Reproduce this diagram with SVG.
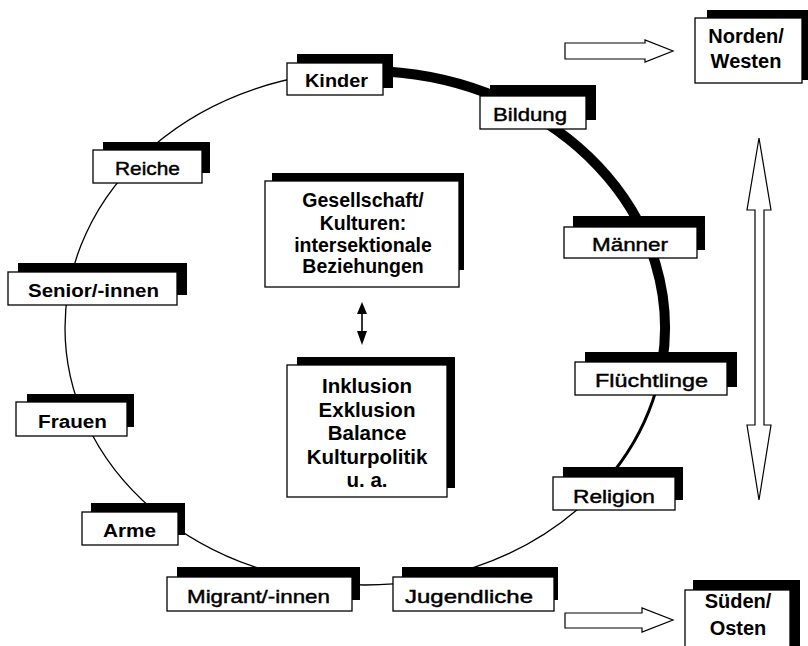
<svg xmlns="http://www.w3.org/2000/svg" width="808" height="646" viewBox="0 0 808 646">
<style>
.bg{fill:#fff}
.sh{fill:#000}
.bx{fill:#fff;stroke:#000;stroke-width:1.3}
.lb{font-family:"Liberation Sans",Arial,sans-serif;font-weight:bold;font-size:18px;text-anchor:middle;fill:#000}
.big{font-size:20px}
.ls{font-family:"Liberation Sans",Arial,sans-serif;font-weight:normal;font-size:19px;text-anchor:middle;fill:#000;stroke:#000;stroke-width:0.45}
.ct{font-family:"Liberation Sans",Arial,sans-serif;font-weight:bold;font-size:19.5px;text-anchor:middle;fill:#000}
.ct2{font-size:20.5px}
.ar{fill:#fff;stroke:#000;stroke-width:1.2}
.thin{fill:none;stroke:#000;stroke-width:1.3}
</style>
<rect class="bg" x="0" y="0" width="808" height="646"/>
<g id="connectors">
  <ellipse class="thin" cx="365" cy="328" rx="300" ry="257"/>
  <path d="M385.9 71.6 A300 257 0 0 1 662.1 363.8" fill="none" stroke="#000" stroke-width="10"/>
  <path d="M656.1 390.2 A300 257 0 0 1 613.7 471.7" fill="none" stroke="#000" stroke-width="3"/>
  <path d="M362 312 L362 333" stroke="#000" stroke-width="1.6"/>
  <polygon points="362,302 367,314 357,314" fill="#000"/>
  <polygon points="362,345 367,331 357,331" fill="#000"/>
</g>
<g id="arrow-top">
  <polygon class="ar" points="565,43 645,43 645,40 673,51 645,62 645,59 565,59"/>
</g>
<g id="arrow-bottom">
  <polygon class="ar" points="565,613 642,613 642,608 673,620 642,632 642,628 565,628"/>
</g>
<g id="arrow-vertical">
  <polygon class="ar" points="759,138 771,210 764,210 764,425 771,425 759,500 747,425 755,425 755,210 747,210"/>
</g>
<g id="node-norden">
  <rect class="sh" x="707" y="10" width="110" height="70"/>
  <rect class="bx" x="695" y="18" width="107" height="65"/>
  <text class="lb big" x="746" y="43">Norden/</text>
  <text class="lb big" x="746" y="68">Westen</text>
</g>
<g id="node-sueden">
  <rect class="sh" x="693" y="580" width="107" height="70"/>
  <rect class="bx" x="685" y="590" width="105" height="62"/>
  <text class="lb big" x="738" y="608">Süden/</text>
  <text class="lb big" x="738" y="635">Osten</text>
</g>
<g id="node-gesellschaft">
  <rect class="sh" x="272" y="173" width="192" height="97"/>
  <rect class="bx" x="265" y="181" width="194" height="106"/>
  <text class="ct" x="363" y="207">Gesellschaft/</text>
  <text class="ct" x="363" y="230">Kulturen:</text>
  <text class="ct" x="363" y="252">intersektionale</text>
  <text class="ct" x="363" y="273">Beziehungen</text>
</g>
<g id="node-inklusion">
  <rect class="sh" x="297" y="357" width="158" height="131"/>
  <rect class="bx" x="287" y="365" width="160" height="132"/>
  <text class="ct ct2" x="367" y="393">Inklusion</text>
  <text class="ct ct2" x="367" y="417">Exklusion</text>
  <text class="ct ct2" x="367" y="440">Balance</text>
  <text class="ct ct2" x="367" y="464">Kulturpolitik</text>
  <text class="ct ct2" x="367" y="487">u. a.</text>
</g>
<g id="node-kinder">
  <rect class="sh" x="297" y="54" width="96" height="34"/>
  <rect class="bx" x="287" y="63" width="96" height="32"/>
  <text class="lb" x="336.5" y="87" textLength="63" lengthAdjust="spacingAndGlyphs">Kinder</text>
</g>
<g id="node-bildung">
  <rect class="sh" x="490" y="85" width="106" height="35"/>
  <rect class="bx" x="480" y="96" width="106" height="33"/>
  <text class="ls" x="530" y="121" textLength="74" lengthAdjust="spacingAndGlyphs">Bildung</text>
</g>
<g id="node-reiche">
  <rect class="sh" x="103" y="142" width="107" height="31"/>
  <rect class="bx" x="93" y="150" width="109" height="33"/>
  <text class="ls" x="147.5" y="175" textLength="65" lengthAdjust="spacingAndGlyphs">Reiche</text>
</g>
<g id="node-senior">
  <rect class="sh" x="18" y="263" width="169" height="32"/>
  <rect class="bx" x="8" y="272" width="169" height="33"/>
  <text class="lb" x="93.5" y="297" textLength="131" lengthAdjust="spacingAndGlyphs">Senior/-innen</text>
</g>
<g id="node-frauen">
  <rect class="sh" x="27" y="394" width="107" height="33"/>
  <rect class="bx" x="16" y="402" width="111" height="34"/>
  <text class="lb" x="72.5" y="428" textLength="69" lengthAdjust="spacingAndGlyphs">Frauen</text>
</g>
<g id="node-arme">
  <rect class="sh" x="91" y="503" width="94" height="32"/>
  <rect class="bx" x="82" y="512" width="96" height="33"/>
  <text class="lb" x="129.5" y="537" textLength="53" lengthAdjust="spacingAndGlyphs">Arme</text>
</g>
<g id="node-maenner">
  <rect class="sh" x="573" y="216" width="132" height="34"/>
  <rect class="bx" x="564" y="227" width="133" height="31"/>
  <text class="ls" x="630" y="251" textLength="76" lengthAdjust="spacingAndGlyphs">Männer</text>
</g>
<g id="node-fluechtlinge">
  <rect class="sh" x="585" y="352" width="152" height="35"/>
  <rect class="bx" x="575" y="362" width="152" height="33"/>
  <text class="ls" x="651.5" y="387" textLength="113" lengthAdjust="spacingAndGlyphs">Flüchtlinge</text>
</g>
<g id="node-religion">
  <rect class="sh" x="563" y="467" width="120" height="33"/>
  <rect class="bx" x="553" y="477" width="122" height="33"/>
  <text class="ls" x="614" y="503" textLength="82" lengthAdjust="spacingAndGlyphs">Religion</text>
</g>
<g id="node-migrant">
  <rect class="sh" x="177" y="567" width="183" height="33"/>
  <rect class="bx" x="167" y="577" width="185" height="34"/>
  <text class="ls" x="258.5" y="603" textLength="143" lengthAdjust="spacingAndGlyphs">Migrant/-innen</text>
</g>
<g id="node-jugendliche">
  <rect class="sh" x="402" y="567" width="156" height="33"/>
  <rect class="bx" x="393" y="577" width="161" height="34"/>
  <text class="ls" x="469" y="603" textLength="128" lengthAdjust="spacingAndGlyphs">Jugendliche</text>
</g>
</svg>
